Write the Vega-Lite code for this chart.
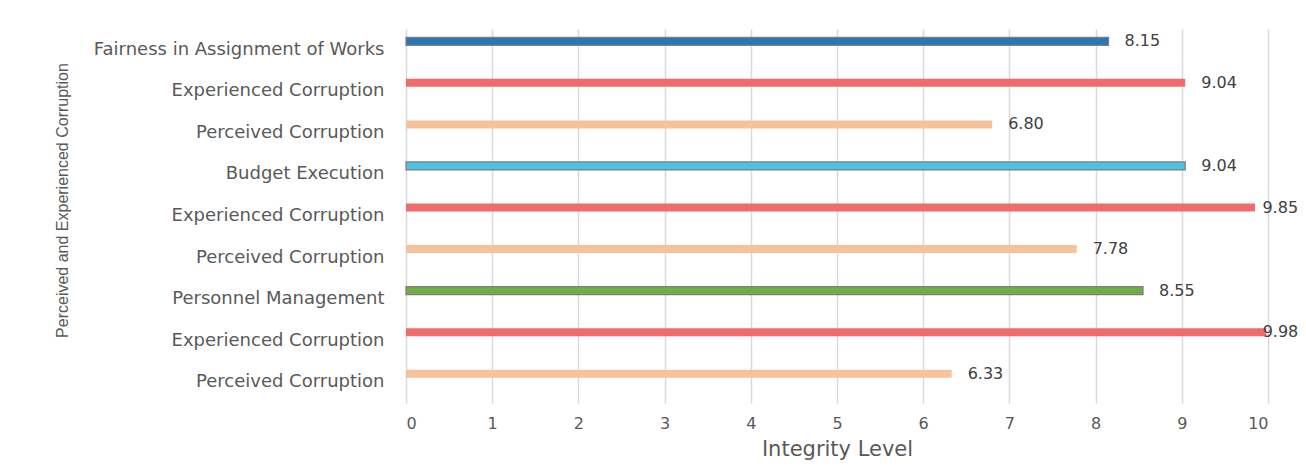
{
  "$schema": "https://vega.github.io/schema/vega-lite/v6.json",
  "autosize": {"type": "none"},
  "padding": {"left": 406, "top": 29, "right": 38, "bottom": 69},
  "width": 862,
  "height": 374,
  "background": "white",
  "data": {
    "values": [
      {"row": "Fairness in Assignment of Works|1", "series": "Fairness in Assignment of Works", "kind": "area", "level": 8.15},
      {"row": "Experienced Corruption|2", "series": "Experienced Corruption", "kind": "experienced", "level": 9.04},
      {"row": "Perceived Corruption|3", "series": "Perceived Corruption", "kind": "perceived", "level": 6.80},
      {"row": "Budget Execution|4", "series": "Budget Execution", "kind": "area", "level": 9.04},
      {"row": "Experienced Corruption|5", "series": "Experienced Corruption", "kind": "experienced", "level": 9.85},
      {"row": "Perceived Corruption|6", "series": "Perceived Corruption", "kind": "perceived", "level": 7.78},
      {"row": "Personnel Management|7", "series": "Personnel Management", "kind": "area", "level": 8.55},
      {"row": "Experienced Corruption|8", "series": "Experienced Corruption", "kind": "experienced", "level": 9.98},
      {"row": "Perceived Corruption|9", "series": "Perceived Corruption", "kind": "perceived", "level": 6.33}
    ]
  },
  "encoding": {
    "y": {
      "field": "row",
      "type": "nominal",
      "sort": null,
      "scale": {"paddingInner": 0, "paddingOuter": 0},
      "axis": {
        "title": "Perceived and Experienced Corruption",
        "titleFont": "Liberation Sans",
        "titleFontSize": 16,
        "titleFontWeight": "normal",
        "titleColor": "#595959",
        "titleX": -344,
        "titleY": 171,
        "titleBaseline": "middle",
        "labelExpr": "split(datum.label, '|')[0]",
        "labelFont": "DejaVu Sans",
        "labelFontSize": 18,
        "labelColor": "#595959",
        "labelPadding": 22,
        "labelLimit": 400,
        "ticks": false,
        "domain": false,
        "grid": false
      }
    },
    "x": {
      "field": "level",
      "type": "quantitative",
      "scale": {"domain": [0, 10], "nice": false},
      "axis": {
        "title": "Integrity Level",
        "titleFont": "DejaVu Sans",
        "titleFontSize": 21,
        "titleFontWeight": "normal",
        "titleColor": "#595959",
        "titlePadding": 7,
        "values": [0, 1, 2, 3, 4, 5, 6, 7, 8, 9, 10],
        "labelFont": "DejaVu Sans",
        "labelFontSize": 16,
        "labelColor": "#595959",
        "labelPadding": 12,
        "ticks": false,
        "domain": false,
        "grid": true,
        "gridColor": "#D9D9D9",
        "gridWidth": 1.5
      }
    }
  },
  "layer": [
    {
      "mark": {"type": "bar", "height": 8, "yOffset": -8.5},
      "encoding": {
        "color": {
          "field": "series",
          "type": "nominal",
          "legend": null,
          "scale": {
            "domain": ["Fairness in Assignment of Works", "Budget Execution", "Personnel Management", "Experienced Corruption", "Perceived Corruption"],
            "range": ["#2E75B6", "#4EC3E0", "#70AD47", "#F06B6B", "#F5C29B"]
          }
        },
        "stroke": {
          "condition": {"test": "datum.kind === 'area'", "value": "#7F7F7F"},
          "value": null
        },
        "strokeWidth": {"value": 1.2},
        "opacity": {"value": 1}
      }
    },
    {
      "transform": [{"filter": "datum.level <= 9.8"}],
      "mark": {
        "type": "text",
        "align": "left",
        "baseline": "middle",
        "dx": 16,
        "yOffset": -8.5,
        "font": "DejaVu Sans",
        "fontSize": 16,
        "color": "#404040"
      },
      "encoding": {
        "text": {"field": "level", "type": "quantitative", "format": ".2f"}
      }
    },
    {
      "transform": [{"filter": "datum.level > 9.8 && datum.level <= 9.9"}],
      "mark": {
        "type": "text",
        "align": "right",
        "baseline": "middle",
        "dx": 43,
        "yOffset": -8.5,
        "font": "DejaVu Sans",
        "fontSize": 16,
        "color": "#404040"
      },
      "encoding": {
        "text": {"field": "level", "type": "quantitative", "format": ".2f"}
      }
    },
    {
      "transform": [{"filter": "datum.level > 9.9"}],
      "mark": {
        "type": "text",
        "align": "right",
        "baseline": "middle",
        "dx": 32,
        "yOffset": -8.5,
        "font": "DejaVu Sans",
        "fontSize": 16,
        "color": "#404040"
      },
      "encoding": {
        "text": {"field": "level", "type": "quantitative", "format": ".2f"}
      }
    }
  ],
  "config": {"view": {"stroke": null}}
}
